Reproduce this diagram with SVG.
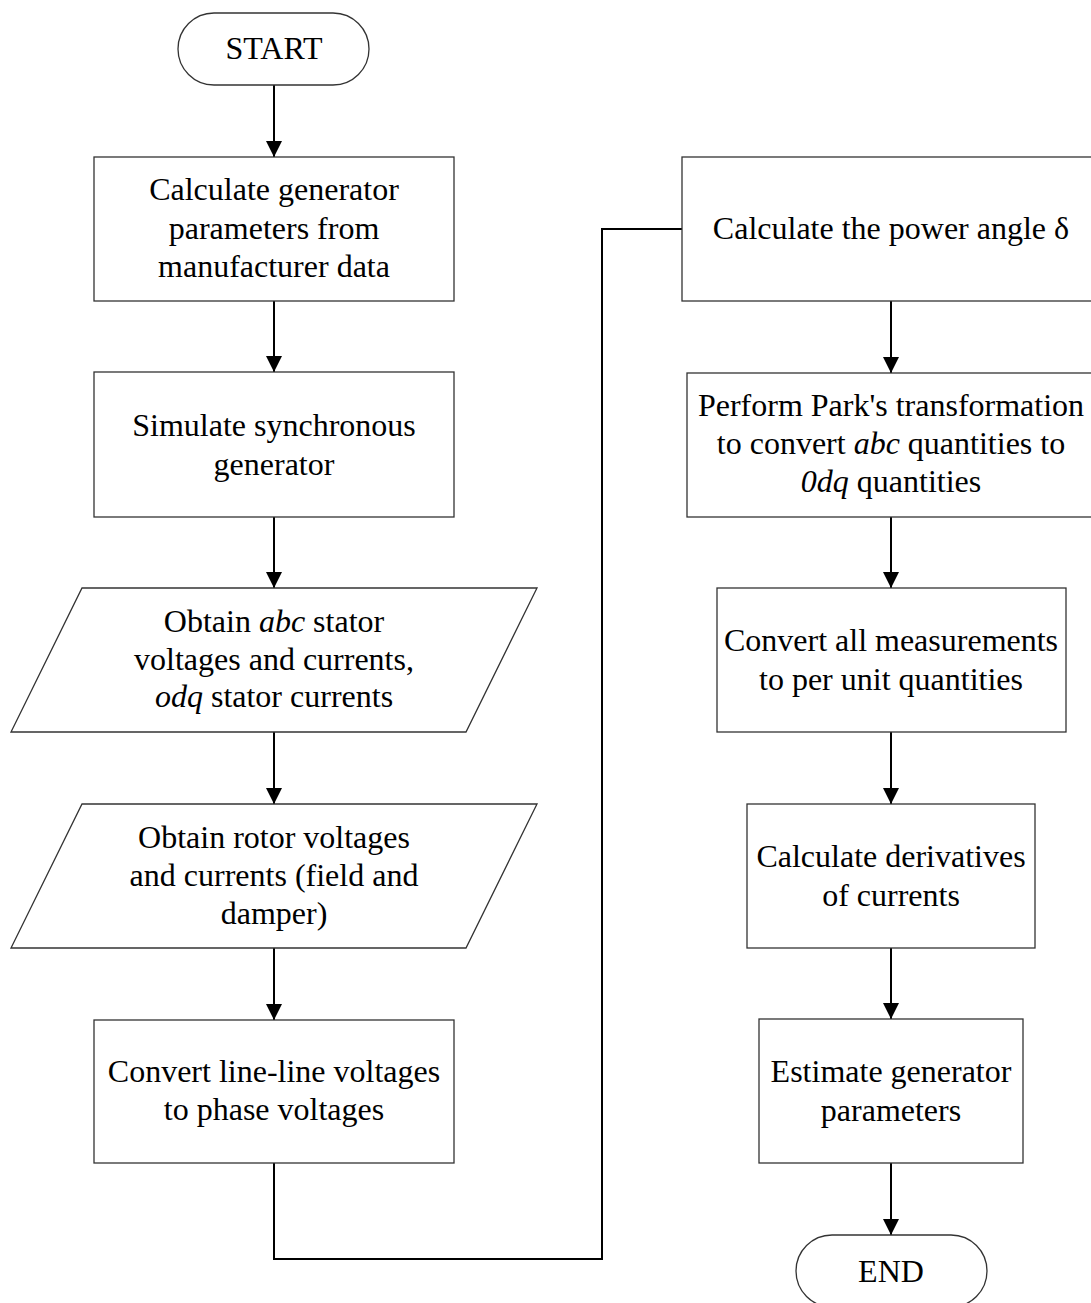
<svg xmlns="http://www.w3.org/2000/svg" width="1091" height="1303" viewBox="0 0 1091 1303">
<defs>
<style>
.shape{fill:#fff;stroke:#333;stroke-width:1.3}
.conn{fill:none;stroke:#000;stroke-width:2}
text{font-family:"Liberation Serif","Times New Roman",serif;font-size:32px;fill:#000;text-anchor:middle}
.i{font-style:italic}
</style>
<marker id="arr" markerWidth="16" markerHeight="16" viewBox="0 0 16 16" refX="16" refY="8" orient="auto" markerUnits="userSpaceOnUse">
<path d="M0,0 L16,8 L0,16 Z" fill="#000"/>
</marker>
</defs>
<rect width="1091" height="1303" fill="#fff"/>
<g id="connectors">
<line class="conn" x1="274" y1="85" x2="274" y2="157" marker-end="url(#arr)"/>
<line class="conn" x1="274" y1="301" x2="274" y2="372" marker-end="url(#arr)"/>
<line class="conn" x1="274" y1="517" x2="274" y2="588" marker-end="url(#arr)"/>
<line class="conn" x1="274" y1="732" x2="274" y2="804" marker-end="url(#arr)"/>
<line class="conn" x1="274" y1="948" x2="274" y2="1020" marker-end="url(#arr)"/>
<polyline class="conn" points="274,1163 274,1259 602,1259 602,229 682,229"/>
<line class="conn" x1="891" y1="301" x2="891" y2="373" marker-end="url(#arr)"/>
<line class="conn" x1="891" y1="517" x2="891" y2="588" marker-end="url(#arr)"/>
<line class="conn" x1="891" y1="732" x2="891" y2="804" marker-end="url(#arr)"/>
<line class="conn" x1="891" y1="948" x2="891" y2="1019" marker-end="url(#arr)"/>
<line class="conn" x1="891" y1="1163" x2="891" y2="1235" marker-end="url(#arr)"/>
</g>
<g id="start">
<rect class="shape" x="178" y="13" width="191" height="72" rx="36" ry="36"/>
<text x="274" y="59">START</text>
</g>
<g id="calc-params">
<rect class="shape" x="94" y="157" width="360" height="144"/>
<text x="274" y="200">Calculate generator</text>
<text x="274" y="238.5">parameters from</text>
<text x="274" y="277">manufacturer data</text>
</g>
<g id="simulate">
<rect class="shape" x="94" y="372" width="360" height="145"/>
<text x="274" y="436">Simulate synchronous</text>
<text x="274" y="474.5">generator</text>
</g>
<g id="obtain-abc">
<polygon class="shape" points="82,588 537,588 466,732 11,732"/>
<text x="274" y="632">Obtain <tspan class="i">abc</tspan> stator</text>
<text x="274" y="669.5">voltages and currents,</text>
<text x="274" y="707"><tspan class="i">odq</tspan> stator currents</text>
</g>
<g id="obtain-rotor">
<polygon class="shape" points="82,804 537,804 466,948 11,948"/>
<text x="274" y="847.5">Obtain rotor voltages</text>
<text x="274" y="885.5">and currents (field and</text>
<text x="274" y="923.5">damper)</text>
</g>
<g id="convert-ll">
<rect class="shape" x="94" y="1020" width="360" height="143"/>
<text x="274" y="1081.5">Convert line-line voltages</text>
<text x="274" y="1120">to phase voltages</text>
</g>
<g id="power-angle">
<rect class="shape" x="682" y="157" width="418" height="144"/>
<text x="891" y="239">Calculate the power angle δ</text>
</g>
<g id="park">
<rect class="shape" x="687" y="373" width="409" height="144"/>
<text x="891" y="416">Perform Park's transformation</text>
<text x="891" y="454">to convert <tspan class="i">abc</tspan> quantities to</text>
<text x="891" y="492"><tspan class="i">0dq</tspan> quantities</text>
</g>
<g id="per-unit">
<rect class="shape" x="717" y="588" width="349" height="144"/>
<text x="891" y="651">Convert all measurements</text>
<text x="891" y="689.5">to per unit quantities</text>
</g>
<g id="derivatives">
<rect class="shape" x="747" y="804" width="288" height="144"/>
<text x="891" y="867">Calculate derivatives</text>
<text x="891" y="905.5">of currents</text>
</g>
<g id="estimate">
<rect class="shape" x="759" y="1019" width="264" height="144"/>
<text x="891" y="1082">Estimate generator</text>
<text x="891" y="1121">parameters</text>
</g>
<g id="end">
<rect class="shape" x="796" y="1235" width="191" height="72" rx="36" ry="36"/>
<text x="891" y="1282">END</text>
</g>
</svg>
